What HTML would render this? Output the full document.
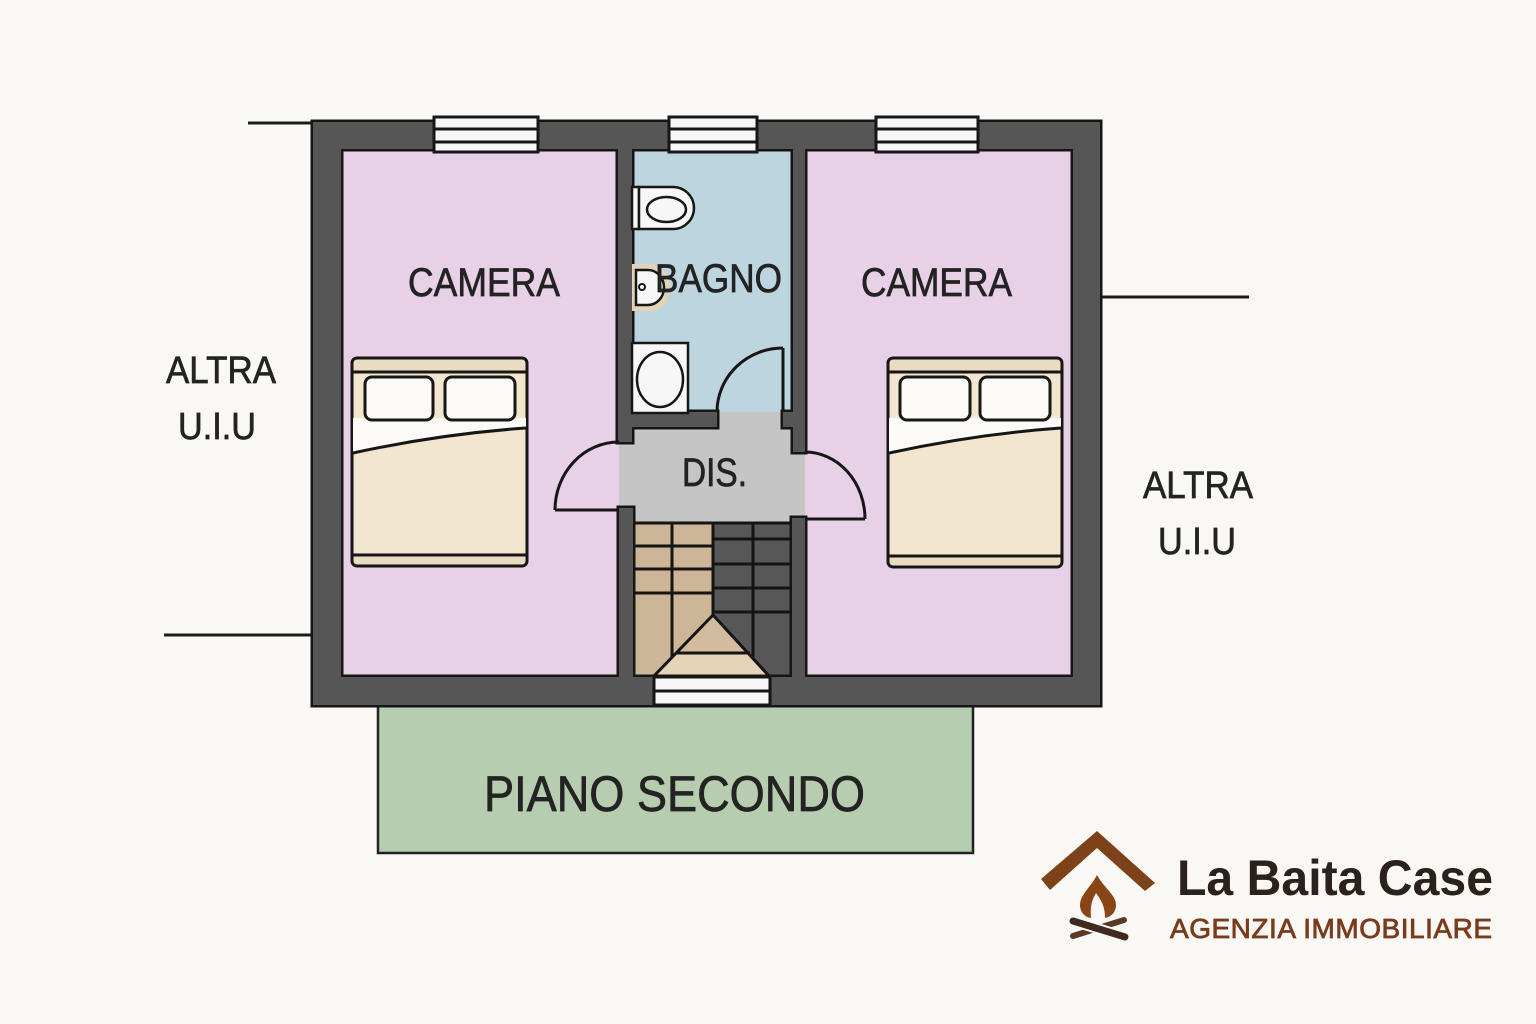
<!DOCTYPE html>
<html><head><meta charset="utf-8"><style>
html,body{margin:0;padding:0;background:#f9f8f5;}
svg{display:block;}
text{font-family:"Liberation Sans",sans-serif;fill:#232323;}
.lbl{stroke:#232323;stroke-width:0.7;}
</style></head><body>
<svg width="1536" height="1024" viewBox="0 0 1536 1024" xmlns="http://www.w3.org/2000/svg">
<rect x="0" y="0" width="1536" height="1024" fill="#f9f8f5"/>

<!-- exterior lines -->
<g stroke="#1c1c1c" stroke-width="3">
<line x1="248" y1="123" x2="314" y2="123"/>
<line x1="164" y1="635" x2="314" y2="635"/>
<line x1="1099" y1="297" x2="1249" y2="297"/>
</g>

<!-- green terrace -->
<rect x="378" y="705" width="595" height="148" fill="#b6cdb0" stroke="#222" stroke-width="2.5"/>

<!-- room fills -->
<rect x="340" y="148" width="280" height="530" fill="#e8d1e6"/>
<rect x="804" y="148" width="270" height="530" fill="#e8d1e6"/>
<rect x="631" y="148" width="163" height="266" fill="#bdd5df"/>
<rect x="619" y="412" width="186" height="111" fill="#c5c5c5"/>

<!-- stairs -->
<g>
<rect x="633" y="522" width="80" height="156" fill="#cdb597"/>
<rect x="713" y="522" width="79" height="156" fill="#575757"/>
<polygon points="713,615 653,677 770,677" fill="#d2bc9f"/>
<polygon points="676,653 750,653 770,677 653,677" fill="#e6d4b8"/>
<g stroke="#141414" stroke-width="3" fill="none">
<line x1="633" y1="523" x2="792" y2="523"/>
<line x1="672" y1="522" x2="672" y2="657"/>
<line x1="713" y1="522" x2="713" y2="615"/>
<line x1="753" y1="522" x2="753" y2="658"/>
<line x1="633" y1="546" x2="713" y2="546"/>
<line x1="633" y1="569" x2="713" y2="569"/>
<line x1="633" y1="593" x2="713" y2="593"/>
<line x1="713" y1="539" x2="792" y2="539"/>
<line x1="713" y1="564" x2="792" y2="564"/>
<line x1="713" y1="588" x2="792" y2="588"/>
<line x1="713" y1="612" x2="792" y2="612"/>
<polygon points="713,615 653,677 770,677"/>
<line x1="676" y1="653" x2="750" y2="653"/>
</g>
</g>

<!-- walls: stroke pass -->
<g stroke="#161616" stroke-width="5" fill="#161616">
<path fill-rule="evenodd" d="M313,122 H1100 V705 H313 Z M341,149 V677 H1073 V149 Z"/>
<rect x="618" y="147" width="14" height="295"/>
<rect x="618" y="412" width="99" height="15"/>
<rect x="783" y="412" width="22" height="15"/>
<rect x="793" y="147" width="12" height="305"/>
<rect x="619" y="508" width="14" height="171"/>
<rect x="792" y="518" width="13" height="161"/>
</g>
<!-- walls: fill pass -->
<g fill="#555655">
<path fill-rule="evenodd" d="M313,122 H1100 V705 H313 Z M341,149 V677 H1073 V149 Z"/>
<rect x="618" y="147" width="14" height="295"/>
<rect x="618" y="412" width="99" height="15"/>
<rect x="783" y="412" width="22" height="15"/>
<rect x="793" y="147" width="12" height="305"/>
<rect x="619" y="508" width="14" height="171"/>
<rect x="792" y="518" width="13" height="161"/>
</g>

<!-- windows -->
<g fill="#f7f7f7" stroke="#161616" stroke-width="3">
<rect x="434" y="117" width="104" height="35"/>
<line x1="434" y1="129" x2="538" y2="129"/>
<line x1="434" y1="142" x2="538" y2="142"/>
<rect x="669" y="117" width="88" height="35"/>
<line x1="669" y1="129" x2="757" y2="129"/>
<line x1="669" y1="142" x2="757" y2="142"/>
<rect x="876" y="117" width="102" height="35"/>
<line x1="876" y1="129" x2="978" y2="129"/>
<line x1="876" y1="142" x2="978" y2="142"/>
<rect x="654" y="677" width="116" height="28"/>
<line x1="654" y1="691" x2="770" y2="691"/>
</g>

<!-- doors -->
<g stroke="#161616" stroke-width="3" fill="none">
<path d="M555,510 H619"/>
<path d="M555,510 A64,68 0 0 1 619,442"/>
<path d="M805,519 H865"/>
<path d="M865,519 A60,67 0 0 0 805,452"/>
<path d="M783,348 V412"/>
<path d="M717,412 A66,64 0 0 1 783,348"/>
</g>

<!-- bathroom fixtures -->
<g stroke="#161616" stroke-width="2.5">
<rect x="632" y="187" width="7" height="42" fill="#f7f7f7"/>
<path d="M639,187 H673 A21,21 0 0 1 673,229 H639 Z" fill="#f7f7f7"/>
<ellipse cx="666.5" cy="209.5" rx="19.5" ry="12.5" fill="#f7f7f7"/>
<path d="M632,264 H650 A20,23.5 0 0 1 650,311 H632 Z" fill="#e4d3b6" stroke="none"/>
<path d="M636,270 H648 A16,17.5 0 0 1 648,305 H636 Z" fill="#f7f7f7"/>
<circle cx="642" cy="287" r="3" fill="#f7f7f7" stroke-width="2"/>
<rect x="632" y="343" width="56" height="70" fill="#f7f7f7"/>
<ellipse cx="660" cy="379.5" rx="23" ry="27.5" fill="#f7f7f7"/>
</g>

<!-- beds -->
<g>
<rect x="352" y="358" width="175" height="208" rx="5" fill="#eadcc2" stroke="#161616" stroke-width="3"/>
<rect x="354" y="372" width="171" height="183" fill="#f3e6cf"/>
<path d="M353,418 L526,418 L526,428 Q440,434 353,453 Z" fill="#fbfaf7"/>
<g stroke="#161616" stroke-width="3" fill="none">
<line x1="352" y1="372" x2="527" y2="372"/>
<line x1="352" y1="555" x2="527" y2="555"/>
<path d="M353,453 Q440,434 526,428"/>
</g>
<rect x="365" y="377" width="68" height="43" rx="7" fill="#fbfaf7" stroke="#161616" stroke-width="3"/>
<rect x="445" y="377" width="70" height="43" rx="7" fill="#fbfaf7" stroke="#161616" stroke-width="3"/>
</g>
<g transform="translate(536,0)">
<rect x="352" y="358" width="174" height="209" rx="5" fill="#eadcc2" stroke="#161616" stroke-width="3"/>
<rect x="354" y="372" width="170" height="184" fill="#f3e6cf"/>
<path d="M353,418 L525,418 L525,428 Q440,434 353,453 Z" fill="#fbfaf7"/>
<g stroke="#161616" stroke-width="3" fill="none">
<line x1="352" y1="372" x2="526" y2="372"/>
<line x1="352" y1="556" x2="526" y2="556"/>
<path d="M353,453 Q440,434 525,428"/>
</g>
<rect x="364" y="377" width="70" height="43" rx="7" fill="#fbfaf7" stroke="#161616" stroke-width="3"/>
<rect x="444" y="377" width="70" height="43" rx="7" fill="#fbfaf7" stroke="#161616" stroke-width="3"/>
</g>

<!-- labels -->
<text class="lbl" x="408" y="296" font-size="40" textLength="152" lengthAdjust="spacingAndGlyphs">CAMERA</text>
<text class="lbl" x="861" y="296" font-size="40" textLength="151" lengthAdjust="spacingAndGlyphs">CAMERA</text>
<text class="lbl" x="655" y="292" font-size="40" textLength="127" lengthAdjust="spacingAndGlyphs">BAGNO</text>
<text class="lbl" x="682" y="486" font-size="40" textLength="65" lengthAdjust="spacingAndGlyphs">DIS.</text>
<text class="lbl" x="484" y="811" font-size="50" textLength="381" lengthAdjust="spacingAndGlyphs">PIANO SECONDO</text>
<text class="lbl" x="166" y="383" font-size="38" textLength="110" lengthAdjust="spacingAndGlyphs">ALTRA</text>
<text class="lbl" x="178" y="439" font-size="38" textLength="78" lengthAdjust="spacingAndGlyphs">U.I.U</text>
<text class="lbl" x="1143" y="498" font-size="38" textLength="110" lengthAdjust="spacingAndGlyphs">ALTRA</text>
<text class="lbl" x="1158" y="554" font-size="38" textLength="78" lengthAdjust="spacingAndGlyphs">U.I.U</text>

<!-- logo -->
<polygon points="1041,879 1097,831 1155,883 1145,891 1097,848 1050,890" fill="#7d4219"/>
<path d="M1097,875 C1090,888 1080,895 1080,905 C1080,913 1086,918 1092,918 L1103,918 C1110,918 1116,913 1116,905 C1116,895 1104,888 1097,875 Z" fill="#8a4516"/>
<path d="M1096,893 C1092,900 1090,906 1091,918 L1105,918 C1105,906 1101,900 1096,893 Z" fill="#f9f8f5"/>
<line x1="1073" y1="936" x2="1124" y2="920" stroke="#5a3a22" stroke-width="6" stroke-linecap="round"/>
<line x1="1073" y1="921" x2="1125" y2="937" stroke="#f9f8f5" stroke-width="11" stroke-linecap="round"/>
<line x1="1073" y1="921" x2="1125" y2="937" stroke="#3e2a1e" stroke-width="7" stroke-linecap="round"/>
<text x="1177" y="895" font-size="50" font-weight="bold" textLength="316" lengthAdjust="spacingAndGlyphs" style="fill:#2b211d">La Baita Case</text>
<text x="1170" y="938" font-size="28" textLength="322" lengthAdjust="spacing" style="fill:#7a3b1c;stroke:#7a3b1c;stroke-width:0.8">AGENZIA IMMOBILIARE</text>
</svg>
</body></html>
